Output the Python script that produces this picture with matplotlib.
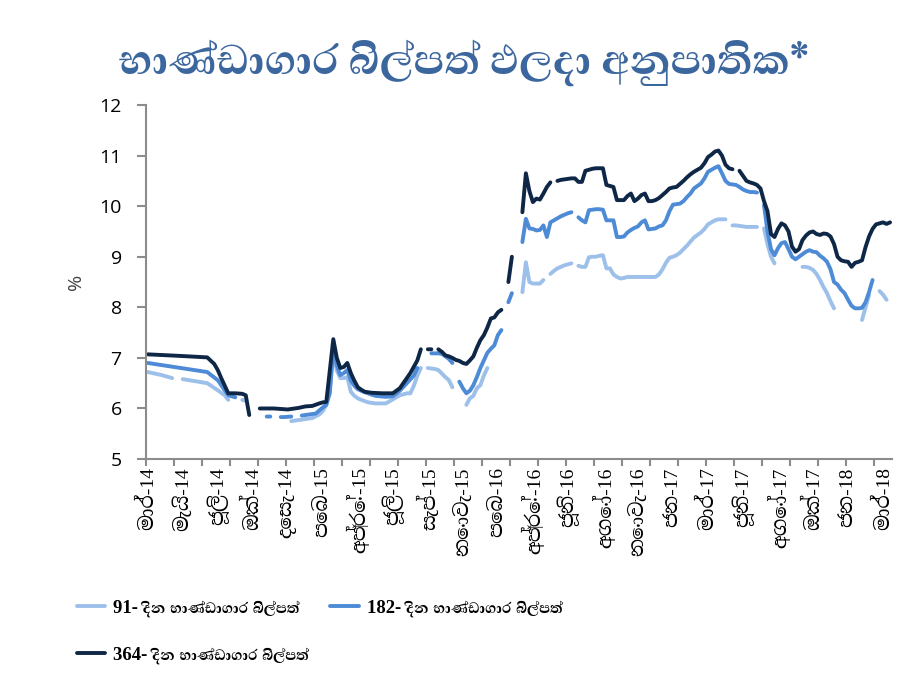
import numpy as np
import matplotlib
matplotlib.use("Agg")
import matplotlib.pyplot as plt
from matplotlib.ticker import FixedLocator

# weekly auction number (0 = first auction of March 2014) and yield, %
# None marks weeks with no accepted bids for that tenor
yield_91 = [
    (0, 6.72), (4, 6.66), (7, 6.60), (8, None), (10, 6.58), (17, 6.50), (20, 6.36),
    (22, 6.26), (23, 6.17), (24, None), (27, 6.17), (28, 6.15), (29, None),
    (41, 5.75), (43, 5.77), (45, 5.79), (47, 5.81), (49, 5.88), (50, 5.95),
    (51, 6.07), (52, 6.40), (53, 7.10), (54, 6.75), (55, 6.60), (56, 6.60),
    (57, 6.62), (58, 6.33), (59, 6.25), (60, 6.20), (61, 6.17), (63, 6.12),
    (65, 6.10), (68, 6.10), (70, 6.18), (72, 6.26), (74, 6.30), (75, 6.30),
    (76, 6.45), (77, 6.65), (78, 6.80), (79, None), (80, 6.80), (82, 6.78),
    (83, 6.76), (85, 6.62), (86, 6.56), (87, 6.42), (88, None), (91, 6.07),
    (92, 6.20), (93, 6.25), (94, 6.40), (95, 6.46), (96, 6.65), (97, 6.80),
    (98, None), (107, 8.30), (108, 8.89), (109, 8.50), (110, 8.47), (111, 8.47),
    (112, 8.47), (113, 8.54), (114, None), (115, 8.66), (116, 8.72), (117, 8.77),
    (118, 8.80), (119, 8.83), (120, 8.85), (121, 8.87), (122, None), (123, 8.82),
    (124, 8.80), (125, 8.80), (126, 8.99), (127, 9.00), (128, 9.00), (129, 9.02),
    (130, 9.03), (131, 8.77), (132, 8.77), (133, 8.65), (134, 8.60), (135, 8.57),
    (136, 8.58), (137, 8.60), (141, 8.60), (145, 8.60), (146, 8.65), (147, 8.75),
    (148, 8.88), (149, 8.98), (150, 9.00), (151, 9.03), (152, 9.08), (153, 9.15),
    (154, 9.22), (155, 9.30), (156, 9.38), (157, 9.43), (158, 9.48), (159, 9.55),
    (160, 9.64), (161, 9.68), (162, 9.72), (163, 9.74), (164, 9.74), (165, 9.74),
    (166, None), (167, 9.62), (168, 9.62), (169, 9.61), (170, 9.60), (171, 9.59),
    (172, 9.59), (173, 9.59), (174, 9.59), (175, None), (176, 9.56), (177, 9.25),
    (178, 9.00), (179, 8.87), (180, None), (187, 8.80), (188, 8.80), (189, 8.78),
    (190, 8.74), (191, 8.66), (192, 8.54), (193, 8.40), (194, 8.28), (195, 8.12),
    (196, 7.98), (197, None), (204, 7.75), (205, 8.00), (206, 8.24), (207, None),
    (209, 8.32), (210, 8.25), (211, 8.15),
]

yield_182 = [
    (0, 6.90), (17, 6.72), (20, 6.56), (22, 6.36), (23, 6.26), (25, 6.22),
    (26, None), (34, 5.84), (35, 5.84), (36, None), (38, 5.83), (39, 5.83),
    (41, 5.84), (42, None), (44, 5.86), (46, 5.88), (48, 5.90), (50, 6.02),
    (51, 6.07), (52, 6.30), (53, 7.20), (54, 6.85), (55, 6.66), (56, 6.70),
    (57, 6.76), (58, 6.55), (59, 6.45), (60, 6.38), (62, 6.32), (65, 6.25),
    (68, 6.23), (70, 6.24), (72, 6.35), (74, 6.50), (76, 6.65), (77, 6.80),
    (78, None), (81, 7.09), (83, 7.09), (84, 7.08), (86, 6.98), (87, 6.90),
    (88, None), (89, 6.53), (90, 6.40), (91, 6.30), (92, 6.35), (93, 6.46),
    (94, 6.62), (95, 6.80), (96, 6.95), (97, 7.10), (98, 7.18), (99, 7.25),
    (100, 7.45), (101, 7.55), (102, None), (103, 8.10), (104, 8.28), (105, None),
    (107, 9.29), (108, 9.75), (109, 9.56), (110, 9.55), (111, 9.52), (112, 9.53),
    (113, 9.62), (114, 9.39), (115, 9.68), (116, 9.72), (117, 9.76), (118, 9.80),
    (119, 9.83), (120, 9.86), (121, 9.88), (122, None), (123, 9.78), (124, 9.72),
    (125, 9.68), (126, 9.92), (127, 9.93), (128, 9.94), (129, 9.94), (130, 9.93),
    (131, 9.72), (132, 9.72), (133, 9.72), (134, 9.39), (135, 9.39), (136, 9.40),
    (137, 9.48), (138, 9.53), (139, 9.57), (140, 9.60), (141, 9.68), (142, 9.72),
    (143, 9.54), (144, 9.55), (145, 9.56), (146, 9.60), (147, 9.62), (148, 9.72),
    (149, 9.90), (150, 10.03), (151, 10.04), (152, 10.05), (153, 10.10),
    (154, 10.18), (155, 10.25), (156, 10.35), (157, 10.40), (158, 10.45),
    (159, 10.55), (160, 10.68), (161, 10.72), (162, 10.76), (163, 10.79),
    (164, 10.65), (165, 10.50), (166, 10.44), (167, 10.43), (168, 10.42),
    (169, 10.38), (170, 10.33), (171, 10.30), (172, 10.28), (173, 10.28),
    (174, 10.27), (175, None), (176, 10.02), (177, 9.50), (178, 9.15), (179, 9.03),
    (180, 9.17), (181, 9.27), (182, 9.29), (183, 9.15), (184, 9.00), (185, 8.95),
    (186, 9.00), (187, 9.05), (188, 9.10), (189, 9.13), (190, 9.10), (191, 9.09),
    (192, 9.02), (193, 8.97), (194, 8.90), (195, 8.75), (196, 8.50), (197, 8.45),
    (198, 8.35), (199, 8.28), (200, 8.15), (201, 8.03), (202, 7.98), (203, 7.98),
    (204, 7.99), (205, 8.10), (206, 8.30), (207, 8.54),
]

yield_364 = [
    (0, 7.07), (9, 7.04), (17, 7.01), (19, 6.88), (20, 6.76), (21, 6.60),
    (22, 6.45), (23, 6.30), (25, 6.30), (27, 6.29), (28, 6.26), (29, 5.87),
    (30, None), (32, 6.00), (34, 6.00), (36, 6.00), (38, 5.99), (40, 5.98),
    (41, 5.99), (43, 6.01), (45, 6.04), (47, 6.05), (49, 6.10), (50, 6.12),
    (51, 6.13), (53, 7.37), (54, 7.00), (55, 6.80), (56, 6.82), (57, 6.90),
    (58, 6.70), (59, 6.55), (60, 6.42), (61, 6.37), (62, 6.33), (64, 6.31),
    (67, 6.30), (70, 6.30), (72, 6.40), (74, 6.60), (75, 6.70), (77, 6.95),
    (78, 7.17), (79, None), (80, 7.17), (81, 7.17), (82, None), (83, 7.17),
    (84, 7.12), (85, 7.05), (86, 7.03), (87, 7.00), (88, 6.96), (89, 6.94),
    (90, 6.90), (91, 6.88), (92, 6.95), (93, 7.03), (94, 7.20), (95, 7.35),
    (96, 7.45), (97, 7.60), (98, 7.78), (99, 7.80), (100, 7.90), (101, 7.95),
    (102, None), (103, 8.50), (104, 9.00), (105, None), (107, 9.88), (108, 10.65),
    (109, 10.30), (110, 10.08), (111, 10.15), (112, 10.13), (113, 10.25),
    (114, 10.38), (115, 10.47), (116, None), (117, 10.50), (118, 10.52),
    (119, 10.53), (120, 10.54), (121, 10.55), (122, 10.55), (123, 10.48),
    (124, 10.48), (125, 10.70), (126, 10.72), (127, 10.74), (128, 10.75),
    (129, 10.75), (130, 10.75), (131, 10.42), (132, 10.40), (133, 10.38),
    (134, 10.12), (135, 10.12), (136, 10.12), (137, 10.20), (138, 10.25),
    (139, 10.10), (140, 10.15), (141, 10.22), (142, 10.25), (143, 10.10),
    (144, 10.10), (145, 10.12), (146, 10.16), (147, 10.22), (148, 10.28),
    (149, 10.35), (150, 10.37), (151, 10.38), (152, 10.44), (153, 10.50),
    (154, 10.57), (155, 10.63), (156, 10.68), (157, 10.72), (158, 10.76),
    (159, 10.85), (160, 10.97), (161, 11.02), (162, 11.08), (163, 11.10),
    (164, 11.00), (165, 10.82), (166, 10.75), (167, 10.73), (168, None),
    (169, 10.70), (170, 10.60), (171, 10.50), (172, 10.47), (173, 10.45),
    (174, 10.42), (175, 10.35), (176, 10.10), (177, 9.90), (178, 9.45),
    (179, 9.39), (180, 9.55), (181, 9.66), (182, 9.62), (183, 9.50), (184, 9.20),
    (185, 9.10), (186, 9.15), (187, 9.33), (188, 9.42), (189, 9.48), (190, 9.50),
    (191, 9.45), (192, 9.43), (193, 9.46), (194, 9.45), (195, 9.40), (196, 9.25),
    (197, 9.00), (198, 8.93), (199, 8.91), (200, 8.90), (201, 8.80), (202, 8.88),
    (203, 8.90), (204, 8.93), (205, 9.19), (206, 9.40), (207, 9.55), (208, 9.64),
    (209, 9.66), (210, 9.68), (211, 9.65), (212, 9.68),
]

n_weeks = 213
month_labels = [
    "මාර්-14", "මැයි-14", "ජූලි-14", "ඔක්-14", "දෙසැ-14", "පෙබ-15",
    "අප්‍රේ-15", "ජූලි-15", "සැප්-15", "නොවැ-15", "පෙබ-16", "අප්‍රේ-16",
    "ජූනි-16", "අගෝ-16", "නොවැ-16", "ජන-17", "මාර්-17", "ජූනි-17",
    "අගෝ-17", "ඔක්-17", "ජන-18", "මාර්-18",
]
series_names = [
    "91- දින භාණ්ඩාගාර බිල්පත්",
    "182- දින භාණ්ඩාගාර බිල්පත්",
    "364- දින භාණ්ඩාගාර බිල්පත්",
]
colors = ["#9dc0ea", "#4e8bd6", "#0f2747"]
title = "භාණ්ඩාගාර බිල්පත් ඵලදා අනුපාතික*"

serif_si = ["Liberation Serif", "Noto Serif Sinhala", "DejaVu Sans"]
axis_grey = "#8c8c8c"

fig = plt.figure(figsize=(9.1, 6.91), dpi=100)
ax = fig.add_axes([0.1604, 0.3357, 0.8196, 0.5123])

lines = []
for pts, c, name in zip([yield_91, yield_182, yield_364], colors, series_names):
    wk = np.array([p[0] for p in pts], dtype=float)
    val = np.array([p[1] for p in pts], dtype=float)
    ln, = ax.plot(wk, val, color=c, lw=2.8, label=name, solid_capstyle="round",
                  solid_joinstyle="round")
    lines.append(ln)

ax.set_xlim(-0.5, n_weeks - 0.5)
ax.set_ylim(5, 12)
ax.set_yticks(range(5, 13))
ax.set_xticks(np.arange(0, n_weeks, 10))
ax.set_xticklabels(month_labels, rotation=90, family=serif_si, fontsize=14)
ax.xaxis.set_minor_locator(FixedLocator(np.arange(-0.5, n_weeks, 8)))
ax.tick_params(axis="x", which="major", length=0, pad=6)
ax.tick_params(axis="x", which="minor", length=5, width=1.5, color=axis_grey)
ax.tick_params(axis="y", length=6.5, width=1.5, color=axis_grey, pad=11,
               labelsize=14)
for lab in ax.get_yticklabels():
    lab.set_family("Open Sans")
for side in ["top", "right"]:
    ax.spines[side].set_visible(False)
for side in ["left", "bottom"]:
    ax.spines[side].set_color(axis_grey)
    ax.spines[side].set_linewidth(1.5)

ax.set_ylabel("%", family="Open Sans", fontsize=14, color="#404040", labelpad=10)

fig.text(0.51, 0.91, title, ha="center", va="center",
         family=["Abhaya Libre", "DejaVu Sans"], fontsize=38, fontweight=800,
         color="#3c679e")

# semibold: bold Latin digits, semibold Sinhala
fig.legend([lines[0], lines[2], lines[1]],
           [series_names[0], series_names[2], series_names[1]],
           loc="upper left", bbox_to_anchor=(0.0846, 0.132), borderpad=0,
           borderaxespad=0, ncol=2, frameon=False, handlelength=1.5,
           handletextpad=0.43, columnspacing=1.15, labelspacing=1.55,
           prop={"family": ["Liberation Serif", "Abhaya Libre", "DejaVu Sans"],
                 "weight": 600, "size": 13.5})

fig.savefig("out.png", dpi=100)
